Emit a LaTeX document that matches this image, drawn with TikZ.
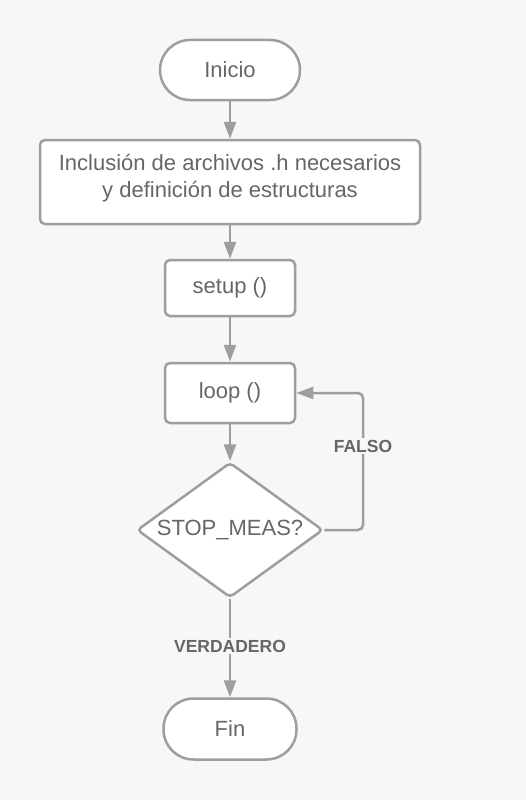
\documentclass[tikz,border=0pt]{standalone}
\usepackage{fontspec}
\setmainfont{Liberation Sans}
\usetikzlibrary{shapes.geometric,arrows.meta}
\definecolor{bg}{HTML}{F7F7F7}
\definecolor{ln}{HTML}{9E9E9E}
\definecolor{tx}{HTML}{666666}
\begin{document}
\begin{tikzpicture}[x=1pt,y=-1pt,
  base/.style={draw=ln,line width=2.5pt,fill=white,text=tx,font=\fontsize{22}{27}\selectfont,align=center,inner sep=0pt},
  term/.style={base,rounded corners=30pt,minimum width=140pt,minimum height=60pt},
  proc/.style={base,rounded corners=5pt},
  dec/.style={base,diamond,minimum width=186pt,minimum height=135pt,rounded corners=4pt,aspect=1.38},
  conn/.style={draw=ln,line width=2.5pt,-{Triangle[width=12pt,length=17pt]}},
  lab/.style={fill=bg,text=tx,font=\bfseries\fontsize{17.5}{21}\selectfont,inner sep=2pt}]
\fill[bg] (0,0) rectangle (526,800);
\useasboundingbox (0,0) rectangle (526,800);
\node[term] (ini) at (230,70) {Inicio};
\node[proc,minimum width=380pt,minimum height=84pt] (inc) at (230,182) {};
\node[text=tx,font=\fontsize{22}{27}\selectfont,align=center,inner sep=0pt] (inct) at (230,178) {Inclusión de archivos .h necesarios\\y definición de estructuras};
\node[proc,minimum width=130pt,minimum height=56pt] (set) at (230,288) {setup ()};
\node[proc,minimum width=130pt,minimum height=60pt] (loop) at (230,393) {loop ()};
\node[dec] (stop) at (230,530) {};
\node[text=tx,font=\fontsize{22}{27}\selectfont] (stopt) at (230,530) {STOP\_MEAS?};
\node[term,minimum width=133pt,minimum height=61pt] (fin) at (230,729) {Fin};
\coordinate (c1) at (363,530);
\coordinate (c2) at (363,393);
\draw[conn] (ini) -- (inc);
\draw[conn] (inc) -- (set);
\draw[conn] (set) -- (loop);
\draw[conn] (loop) -- (stop);
\draw[conn,rounded corners=5pt] (stop.east) -- (c1) -- (c2) -- (loop.east);
\draw[conn] (stop.south) -- (fin);
\node[lab] (fal) at (363,446) {FALSO};
\node[lab] (ver) at (230,646) {VERDADERO};
\end{tikzpicture}
\end{document}
